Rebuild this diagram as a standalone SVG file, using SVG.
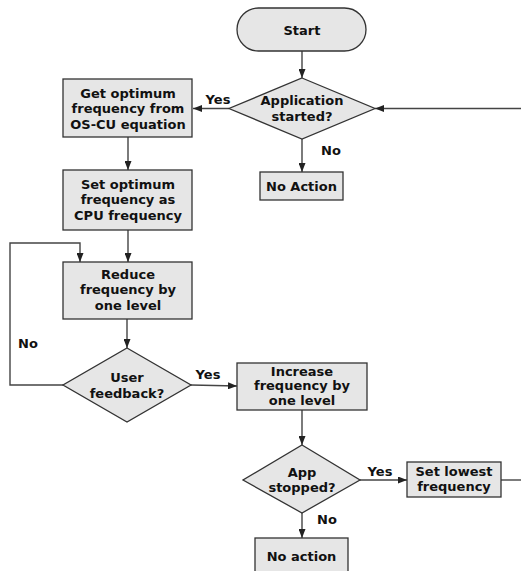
<svg xmlns="http://www.w3.org/2000/svg" width="521" height="571" viewBox="0 0 521 571">
<defs>
<marker id="ah" markerWidth="9" markerHeight="7" refX="9" refY="3.5" orient="auto" markerUnits="userSpaceOnUse">
<path d="M0,0 L9,3.5 L0,7 z" fill="#222"/>
</marker>
<style>
.s{fill:#e6e6e6;stroke:#333;stroke-width:1.3}
.t{font-family:"DejaVu Sans","Liberation Sans",sans-serif;font-weight:bold;font-size:13px;fill:#111;text-anchor:middle}
.c{fill:none;stroke:#444;stroke-width:1.4}
.a{marker-end:url(#ah)}
</style>
</defs>
<rect width="521" height="571" fill="#fff"/>
<g id="connectors">
<line class="c a" x1="302" y1="51" x2="302" y2="78"/>
<line class="c a" x1="229" y1="108.5" x2="193" y2="108.5"/>
<line class="c a" x1="521" y1="108.5" x2="375" y2="108.5"/>
<line class="c a" x1="302" y1="139" x2="302" y2="172"/>
<line class="c a" x1="128" y1="137" x2="128" y2="170"/>
<line class="c a" x1="128" y1="230" x2="128" y2="262"/>
<polyline class="c a" points="63,385 10,385 10,243 80,243 80,262"/>
<line class="c a" x1="127" y1="319" x2="127" y2="348"/>
<line class="c a" x1="191" y1="385" x2="237" y2="386"/>
<line class="c a" x1="302" y1="410" x2="302" y2="445"/>
<line class="c a" x1="360" y1="480" x2="407" y2="480"/>
<line class="c" x1="501" y1="480" x2="521" y2="480"/>
<line class="c a" x1="302" y1="513" x2="302" y2="538"/>
<text class="t" x="218" y="104">Yes</text>
<text class="t" x="331" y="155">No</text>
<text class="t" x="28" y="348">No</text>
<text class="t" x="208" y="379">Yes</text>
<text class="t" x="380" y="476">Yes</text>
<text class="t" x="327" y="524">No</text>
</g>
<g id="start">
<rect class="s" x="237" y="8" width="129" height="43" rx="21.5"/>
<text class="t" x="302" y="34.5">Start</text>
</g>
<g id="app-started">
<polygon class="s" points="302,78 375,108.5 302,139 229,108.5"/>
<text class="t" x="302" y="104.5">Application</text>
<text class="t" x="302" y="120.5">started?</text>
</g>
<g id="get-optimum">
<rect class="s" x="63" y="79" width="129" height="58"/>
<text class="t" x="128" y="97.5">Get optimum</text>
<text class="t" x="128" y="113">frequency from</text>
<text class="t" x="128" y="128.5">OS-CU equation</text>
</g>
<g id="no-action-1">
<rect class="s" x="260" y="172" width="83" height="28"/>
<text class="t" x="301.5" y="190.5">No Action</text>
</g>
<g id="set-optimum">
<rect class="s" x="63" y="170" width="129" height="60"/>
<text class="t" x="128" y="188.5">Set optimum</text>
<text class="t" x="128" y="204">frequency as</text>
<text class="t" x="128" y="219.5">CPU frequency</text>
</g>
<g id="reduce">
<rect class="s" x="63" y="262" width="129" height="57"/>
<text class="t" x="128" y="278.5">Reduce</text>
<text class="t" x="128" y="294">frequency by</text>
<text class="t" x="128" y="309.5">one level</text>
</g>
<g id="user-feedback">
<polygon class="s" points="127,348 191,385 127,422 63,385"/>
<text class="t" x="127" y="381.5">User</text>
<text class="t" x="127" y="397.5">feedback?</text>
</g>
<g id="increase">
<rect class="s" x="237" y="363" width="130" height="47"/>
<text class="t" x="302" y="375.5">Increase</text>
<text class="t" x="302" y="390">frequency by</text>
<text class="t" x="302" y="405">one level</text>
</g>
<g id="app-stopped">
<polygon class="s" points="302,445 360,480 302,513 243,480"/>
<text class="t" x="302" y="476.5">App</text>
<text class="t" x="302" y="491.5">stopped?</text>
</g>
<g id="set-lowest">
<rect class="s" x="407" y="462" width="94" height="35"/>
<text class="t" x="454" y="475.5">Set lowest</text>
<text class="t" x="454" y="490.5">frequency</text>
</g>
<g id="no-action-2">
<rect class="s" x="255" y="538" width="93" height="40"/>
<text class="t" x="301.5" y="560.5">No action</text>
</g>
</svg>
